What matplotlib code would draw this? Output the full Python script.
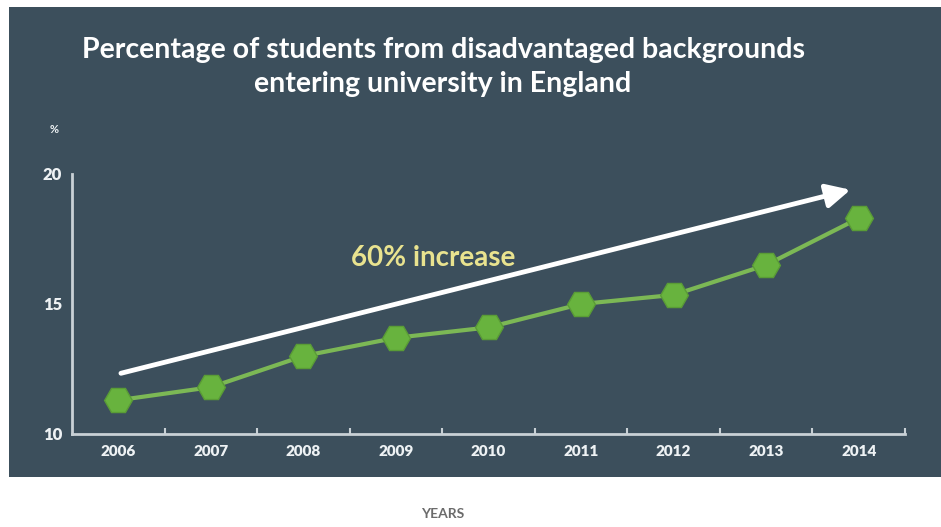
import matplotlib
matplotlib.use('Agg')
import matplotlib.pyplot as plt
from matplotlib.patches import Rectangle

years = ['2006', '2007', '2008', '2009', '2010', '2011', '2012', '2013', '2014']
pct = [11.3, 11.8, 13.0, 13.7, 14.1, 15.0, 15.35, 16.5, 18.3]
y_ticks = [10, 15, 20]

title = 'Percentage of students from disadvantaged backgrounds\nentering university in England'
note = '60% increase'

bg = '#3c4f5c'
fg = '#eef2f4'

plt.rcParams['font.family'] = ['Lato', 'DejaVu Sans']

fig = plt.figure(figsize=(9.41, 5.27), dpi=100)
fig.patches.append(Rectangle((9 / 941, 50 / 527), 1, 470 / 527, transform=fig.transFigure,
                             facecolor=bg, edgecolor='none', zorder=-5))

ax = fig.add_axes([72 / 941, 93 / 527, 833 / 941, 260 / 527])
ax.set_facecolor('none')
ax.set_zorder(2)

x = list(range(len(years)))
ax.plot(x, pct, color='#7cb855', lw=3, marker='H', markersize=20,
        markerfacecolor='#68b33e', markeredgecolor='#5a9c36', markeredgewidth=1, zorder=3)

ax.set_xlim(-0.5, len(years) - 0.5)
ax.set_ylim(10, 20)

for s in ['top', 'right']:
    ax.spines[s].set_visible(False)
for s in ['left', 'bottom']:
    ax.spines[s].set_color('#c9d1d6')
    ax.spines[s].set_linewidth(2)

ax.set_xticks(x)
ax.set_xticklabels(years)
ax.set_xticks([i + 0.5 for i in range(len(years))], minor=True)
ax.tick_params(axis='x', which='major', length=0, pad=8, labelsize=11, labelcolor=fg)
ax.tick_params(axis='x', which='minor', length=4, width=1.5, color='#c9d1d6', direction='in')
for lbl in ax.get_xticklabels():
    lbl.set_fontweight('heavy')

ax.set_yticks(y_ticks)
ax.tick_params(axis='y', length=0, pad=7, labelsize=12, labelcolor=fg)
for lbl in ax.get_yticklabels():
    lbl.set_fontweight('heavy')

ax.text(-0.022, 1.17, '%', transform=ax.transAxes, color=fg, fontsize=8,
        fontweight='bold', ha='center', va='center')

# trend arrow
ax.annotate('', xy=(7.94, 19.42), xytext=(0, 12.31),
            arrowprops=dict(arrowstyle='-|>', color='white', lw=3.5, mutation_scale=36),
            zorder=4)
ax.text(3.4, 16.77, note, color='#e9e38f', fontsize=20, fontweight='bold',
        ha='center', va='center')

fig.text(443 / 941, 1 - 67 / 527, title, color='white', fontsize=20.5, fontweight='bold',
         ha='center', va='center', multialignment='center', linespacing=1.4)

fig.text(443 / 941, 1 - 514 / 527, 'YEARS', color='#6b6b6b', fontsize=10,
         fontweight='bold', ha='center', va='center')

fig.savefig('out.png', dpi=100, facecolor='white')
